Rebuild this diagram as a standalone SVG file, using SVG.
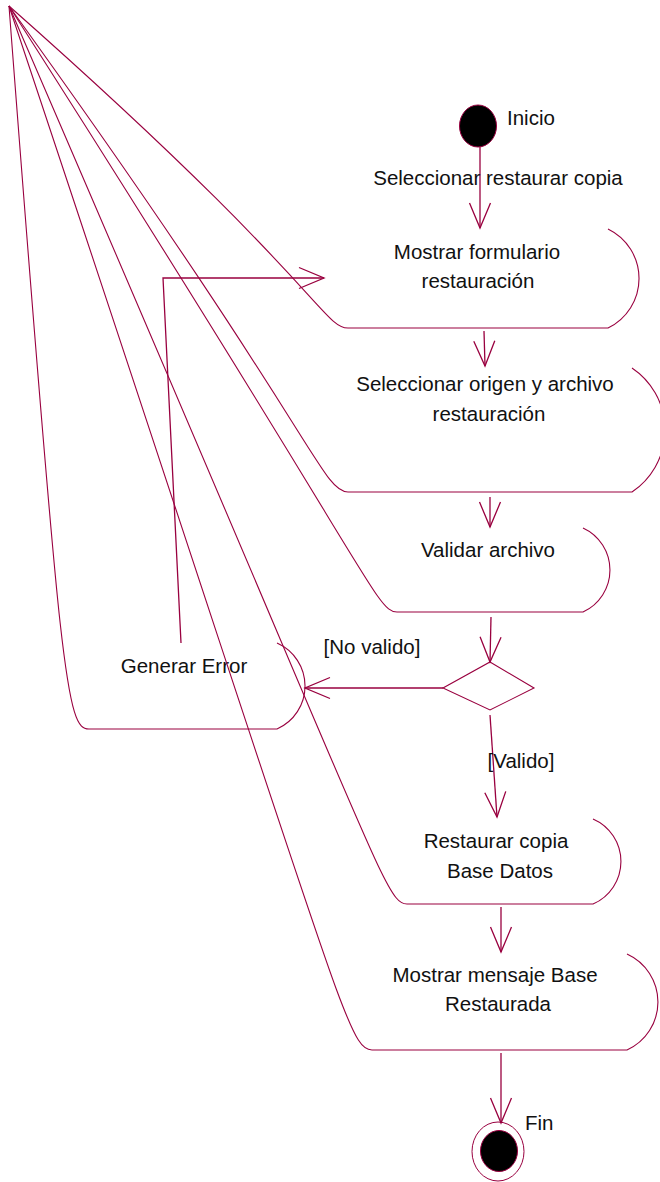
<svg xmlns="http://www.w3.org/2000/svg" width="660" height="1182" viewBox="0 0 660 1182">
<style>
.shape{fill:none;stroke:#99003f;stroke-width:1.1}
.conn{fill:none;stroke:#99003f;stroke-width:1.3}
.lbl{font-family:"Liberation Sans",Arial,sans-serif;font-size:20.5px;fill:#111}
.c{text-anchor:middle}
</style>
<defs>
<marker id="arr" markerUnits="userSpaceOnUse" markerWidth="30" markerHeight="26" viewBox="-28 -13 30 26" refX="0" refY="0" orient="auto">
<path d="M-25,-10.5 L0,0 L-25,10.5" fill="none" stroke="#99003f" stroke-width="1.3"/>
</marker>
</defs>
<g id="start">
<ellipse cx="478" cy="126" rx="18.5" ry="21" fill="#000" stroke="#99003f" stroke-width="1"/>
<text class="lbl" x="507" y="125">Inicio</text>
</g>
<g id="act_mostrar_formulario">
<path class="shape" d="M9,6 C317,278.5 323.2,328 348,328 L608,328 A55,55 0 0 0 608,229"/>
<text class="lbl c" x="477" y="259">Mostrar formulario</text>
<text class="lbl c" x="478" y="288">restauración</text>
</g>
<g id="act_seleccionar_origen">
<path class="shape" d="M9,6 C315,430 321.6,492 348,492 L632,492 A74.7,74.7 0 0 0 632,368"/>
<text class="lbl c" x="485" y="391">Seleccionar origen y archivo</text>
<text class="lbl c" x="489" y="421">restauración</text>
</g>
<g id="act_validar">
<path class="shape" d="M9,6 C370,570 375.4,612 397,612 L583,612 A46.2,46.2 0 0 0 583,528"/>
<text class="lbl c" x="488" y="557">Validar archivo</text>
</g>
<g id="decision">
<path class="shape" d="M490,662 L534,688 L490,710 L443,688 Z"/>
</g>
<g id="act_generar_error">
<path class="shape" d="M9,6 C61,686 66.6,729 89,729 L277,729 A47,47 0 0 0 277,643"/>
<text class="lbl c" x="184" y="673">Generar Error</text>
</g>
<g id="act_restaurar">
<path class="shape" d="M9,6 C379,861.5 384.6,904 407,904 L593,904 A46.3,46.3 0 0 0 593,819"/>
<text class="lbl c" x="496" y="848">Restaurar copia</text>
<text class="lbl c" x="500" y="878">Base Datos</text>
</g>
<g id="act_mostrar_mensaje">
<path class="shape" d="M9,6 C341,1002 347.2,1050 372,1050 L627,1050 A52.7,52.7 0 0 0 627,954"/>
<text class="lbl c" x="495" y="982">Mostrar mensaje Base</text>
<text class="lbl c" x="498" y="1011">Restaurada</text>
</g>
<g id="end">
<ellipse cx="498" cy="1151.5" rx="26" ry="29.5" fill="none" stroke="#99003f" stroke-width="1"/>
<ellipse cx="499" cy="1151" rx="18.5" ry="20.5" fill="#000" stroke="#99003f" stroke-width="1"/>
<text class="lbl" x="525" y="1130">Fin</text>
</g>
<g id="connectors">
<path class="conn" d="M480,147 L480,228" marker-end="url(#arr)"/>
<text class="lbl c" x="498" y="185">Seleccionar restaurar copia</text>
<path class="conn" d="M484,331 L485,366" marker-end="url(#arr)"/>
<path class="conn" d="M490,497 L490,527" marker-end="url(#arr)"/>
<path class="conn" d="M491,617 L490,662" marker-end="url(#arr)"/>
<path class="conn" d="M443,688 L305,688" marker-end="url(#arr)"/>
<text class="lbl c" x="372" y="654">[No valido]</text>
<path class="conn" d="M490,715 L497,817" marker-end="url(#arr)"/>
<text class="lbl c" x="521" y="768">[Valido]</text>
<path class="conn" d="M501,907 L501,952" marker-end="url(#arr)"/>
<path class="conn" d="M501,1053 L501,1123" marker-end="url(#arr)"/>
<path class="conn" d="M181,643 L163,278 L324,278" marker-end="url(#arr)"/>
</g>
</svg>
